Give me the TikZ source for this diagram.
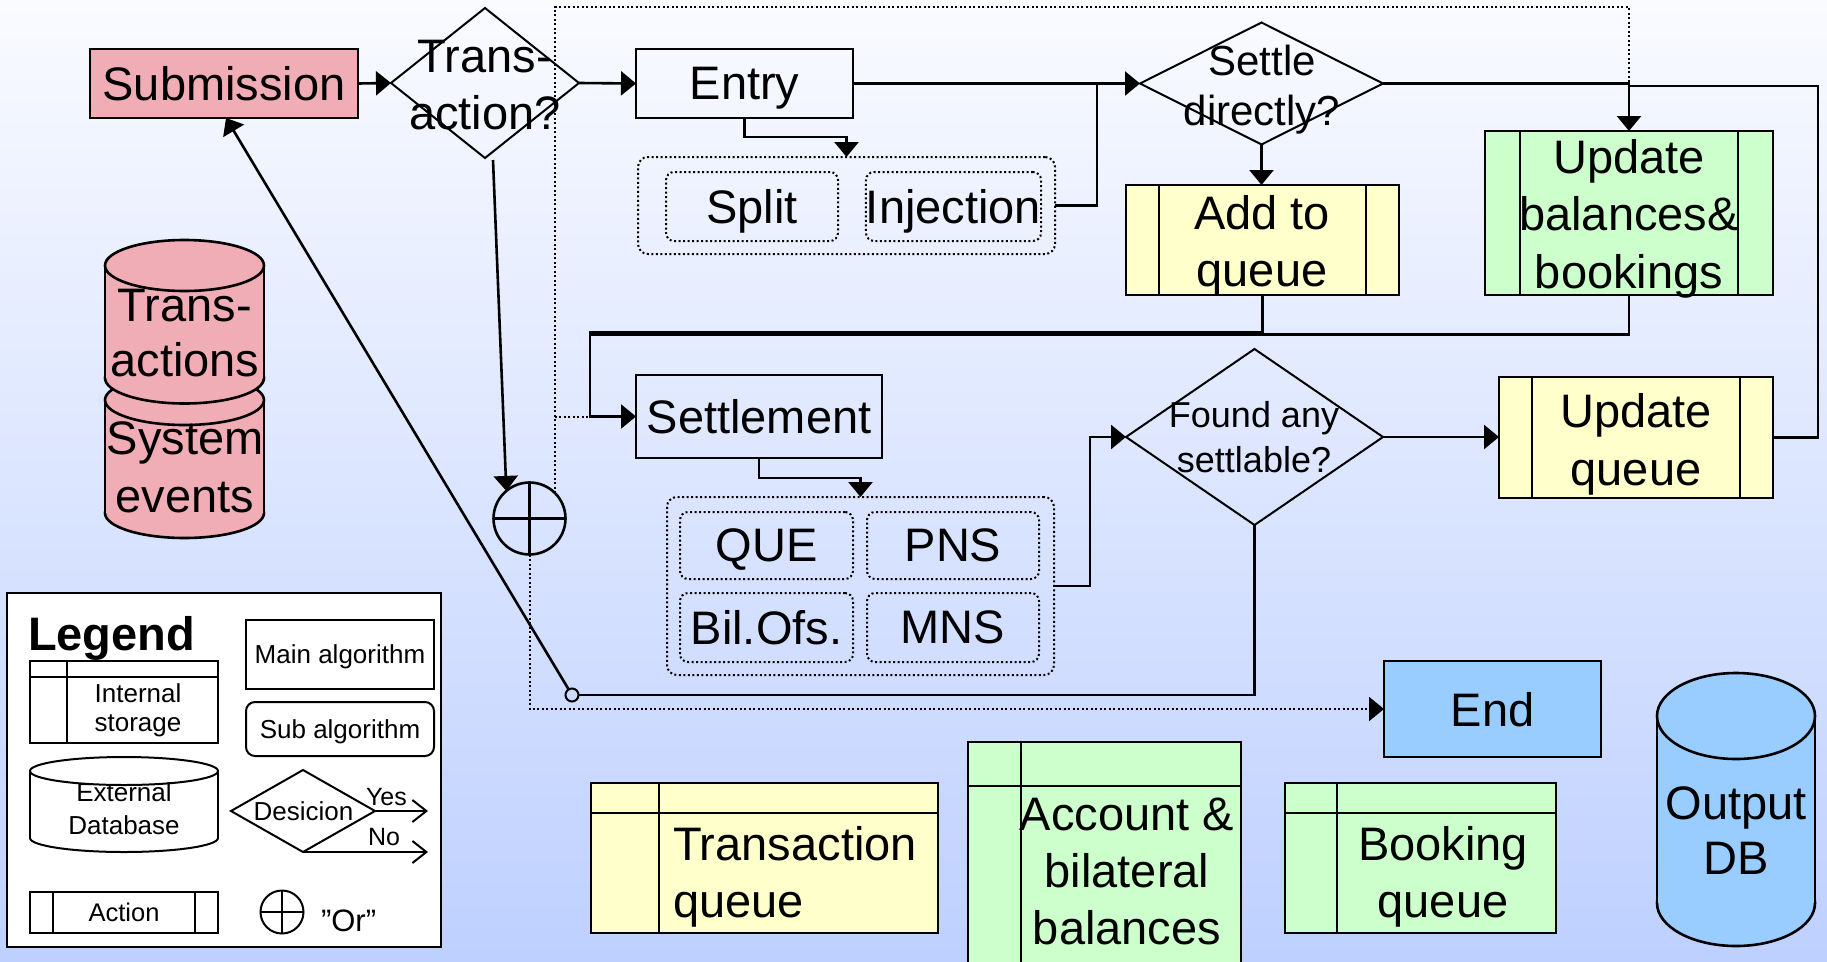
\documentclass[tikz,border=0pt]{standalone}
\usepackage{fontspec}
\setmainfont{Liberation Sans}
\usetikzlibrary{shapes.geometric,arrows.meta,calc}
\definecolor{pinkc}{RGB}{240,173,181}
\definecolor{yelc}{RGB}{255,255,204}
\definecolor{grnc}{RGB}{204,255,204}
\definecolor{bluc}{RGB}{153,204,255}
\definecolor{bgtop}{RGB}{250,251,255}
\definecolor{bgbot}{RGB}{190,208,255}
% vertical cylinder: xc, rx, ytop, ybot, ry, fill, line width
\newcommand\vcyl[7]{%
  \filldraw[fill=#6,line width=#7] (#1,#4) ellipse ({#2} and {#5});
  \fill[#6] (#1-#2,#3) rectangle (#1+#2,#4);
  \draw[line width=#7] (#1-#2,#3) -- (#1-#2,#4) (#1+#2,#3) -- (#1+#2,#4);
  \filldraw[fill=#6,line width=#7] (#1,#3) ellipse ({#2} and {#5});}
\newcommand\actlines[3]{\draw[line width=#3] ([xshift=#2]#1.north west) -- ([xshift=#2]#1.south west) ([xshift=-#2]#1.north east) -- ([xshift=-#2]#1.south east);}
\begin{document}
\begin{tikzpicture}[x=1pt,y=-1pt,
 every node/.style={outer sep=0pt,inner sep=0pt},
 lw/.style={line width=2.6pt},
 box/.style={draw,rectangle,line width=2.6pt,text depth=0pt},
 dia/.style={draw,diamond,line width=2pt},
 arr/.style={-{Triangle[length=15pt,width=24pt]}},
 dotl/.style={line width=2pt,dash pattern=on 2pt off 2.5pt},
 grp/.style={draw,rectangle,line width=2pt,dash pattern=on 2pt off 2.5pt,rounded corners=10pt},
 sgrp/.style={grp,rounded corners=8pt,text depth=0pt},
 bigf/.style={font=\fontsize{47}{57}\selectfont,align=center},
 smallf/.style={font=\fontsize{26}{29}\selectfont,align=center},
 barb/.style={line width=2pt,-{Straight Barb[length=14pt,width=22pt]}}
]
\shade[top color=bgtop,bottom color=bgbot] (0,0) rectangle (1827,961);
\useasboundingbox (0,0) rectangle (1827,961);

% external databases (left)
\vcyl{184.5}{79.5}{400}{513}{25}{pinkc}{2.6pt}
\node[font=\fontsize{47}{58}\selectfont,align=center] (tSe) at (185,467.2) {System\\events};
\vcyl{184.5}{79.5}{265.5}{378}{25.5}{pinkc}{2.6pt}
\node[font=\fontsize{47}{55}\selectfont,align=center] (tTa) at (185,332.6) {Trans-\\actions};

% main flow nodes
\node[box,fill=pinkc,minimum width=268,minimum height=69,bigf] (sub) at (224,83.5) {Submission};
\node[dia,minimum width=188,minimum height=150] (tq) at (485,83) {};
\node[bigf] (tTq) at (485,84.6) {Trans-\\action?};
\node[box,minimum width=217,minimum height=69,bigf] (en) at (744.5,83.5) {Entry};
\node[grp,minimum width=417,minimum height=97] (g1) at (846.5,205.5) {};
\node[sgrp,minimum width=172,minimum height=69,bigf] (spl) at (752,206.5) {Split};
\node[sgrp,minimum width=173,minimum height=69,bigf] (inj) at (953.5,206.5) {Injection};
\node[dia,minimum width=243,minimum height=122] (sd) at (1261.5,83.5) {};
\node[font=\fontsize{42}{50}\selectfont,align=center] (tSd) at (1262,89.4) {Settle\\directly?};
\node[box,fill=yelc,minimum width=273,minimum height=110] (aq) at (1262.5,240) {};
\actlines{aq}{33pt}{2.6pt}
\node[bigf] (tAq) at (1262,245.6) {Add to\\queue};
\node[box,fill=grnc,minimum width=288,minimum height=164] (ub) at (1629,213) {};
\actlines{ub}{35pt}{2.6pt}
\node[bigf,font=\fontsize{47}{57.5}\selectfont] (tUb) at (1629,218.6) {Update\\balances\&\\bookings};
\node[box,minimum width=246,minimum height=83,bigf] (st) at (759,416.5) {Settlement};
\node[grp,minimum width=387,minimum height=178] (g2) at (860.5,586) {};
\node[sgrp,minimum width=173,minimum height=67,bigf] (que) at (766.5,545.5) {QUE};
\node[sgrp,minimum width=172,minimum height=67,bigf] (pns) at (953,545.5) {PNS};
\node[sgrp,minimum width=173,minimum height=69,bigf] (bil) at (766.5,627.5) {Bil.Ofs.};
\node[sgrp,minimum width=172,minimum height=69,bigf] (mns) at (953,627.5) {MNS};
\node[dia,minimum width=257,minimum height=176] (fa) at (1254.5,437) {};
\node[font=\fontsize{36}{45}\selectfont,align=center] (tFa) at (1254,437.6) {Found any\\settlable?};
\node[box,fill=yelc,minimum width=274,minimum height=121] (uq) at (1636,437.5) {};
\actlines{uq}{33pt}{2.6pt}
\node[bigf,font=\fontsize{47}{58}\selectfont] (tUq) at (1636,444.1) {Update\\queue};
\node[circle,draw,lw,minimum size=72] (or) at (529.5,518.5) {};
\draw[lw] (or.north) -- (or.south) (or.west) -- (or.east);
\node[circle,draw,line width=2pt,minimum size=13] (jc) at (572,695) {};
\node[box,fill=bluc,minimum width=217,minimum height=96,bigf] (end) at (1492.5,709) {End};

% internal storages
\node[box,fill=yelc,minimum width=347,minimum height=150] (trq) at (764.5,858) {};
\draw[lw] ([yshift=-30pt]trq.north west) -- ([yshift=-30pt]trq.north east) ([xshift=68pt]trq.north west) -- ([xshift=68pt]trq.south west);
\node[bigf,align=left,anchor=west] (tTrq) at (673,876.6) {Transaction\\queue};
\node[box,fill=grnc,minimum width=273,minimum height=233] (acc) at (1104.5,858.5) {};
\draw[lw] ([yshift=-44pt]acc.north west) -- ([yshift=-44pt]acc.north east) ([xshift=53pt]acc.north west) -- ([xshift=53pt]acc.south west);
\node[bigf,font=\fontsize{47}{56.7}\selectfont] (tAcc) at (1127,871.5) {Account \&\\bilateral\\balances};
\node[box,fill=grnc,minimum width=271,minimum height=150] (bq) at (1420.5,858) {};
\draw[lw] ([yshift=-30pt]bq.north west) -- ([yshift=-30pt]bq.north east) ([xshift=52pt]bq.north west) -- ([xshift=52pt]bq.south west);
\node[bigf] (tBq) at (1443,876.6) {Booking\\queue};
\vcyl{1736}{79}{716}{903}{43}{bluc}{2.6pt}
\node[bigf,font=\fontsize{47}{55}\selectfont] (tOd) at (1736,830.6) {Output\\DB};

% connectors
\coordinate (fb) at ($(st.west)+(-46,0)$);
\coordinate (dtop) at (1629,7);
\coordinate (subtip) at ($(sub.south west)+(136,0)$);
\draw[lw,arr] (sub.east) -- (tq.west);
\draw[lw,arr] (tq.east) -- (en.west);
\draw[lw,arr] (en.south) |- ($(g1.north)+(0,-20)$) -- (g1.north);
\draw[lw,arr] (en.east) -- (sd.west);
\draw[lw] (g1.east) -| ($(sd.west)+(-43,0)$);
\draw[lw,arr] (sd.south) -- (sd.south |- aq.north);
\draw[lw,arr] (sd.east) -| (ub.north);
\draw[lw] (uq.east) -- ++(45,0) |- ($(ub.north)+(0,-45)$);
\draw[lw] (ub.south) -- ++(0,39.5) -| (fb);
\draw[lw,arr] (aq.south) -- ++(0,37) -| (fb) -- (st.west);
\draw[lw,arr] (st.south) |- ($(g2.north)+(0,-19)$) -- (g2.north);
\draw[lw,arr] (g2.east) -- ++(36,0) |- (fa.west);
\draw[lw,arr] (fa.east) -- (fa.east -| uq.west);
\draw[lw] (fa.south) |- (jc.east);
\draw[lw,arr] (jc.121) -- (subtip);
\draw[lw,arr] ($(tq.south)+(8,2)$) -- (or.130);
\draw[dotl] (or.north east) |- (dtop) -- (dtop |- sd.east);
\draw[dotl] (or.north east |- fb) -- (fb);
\draw[dotl,arr] (or.south) |- (end.west);

% legend
\node[draw,fill=white,line width=2.6pt,minimum width=434,minimum height=354] (leg) at (224,770) {};
\node[font=\fontsize{47}{50}\selectfont\bfseries,anchor=base west] (tLeg) at (28,650) {Legend};
\node[box,line width=2pt,minimum width=188,minimum height=82] (lInt) at (124,702) {};
\draw[line width=2pt] ([yshift=-16pt]lInt.north west) -- ([yshift=-16pt]lInt.north east) ([xshift=37pt]lInt.north west) -- ([xshift=37pt]lInt.south west);
\node[smallf] (tInt) at (138,710.6) {Internal\\storage};
\node[box,line width=2pt,minimum width=188,minimum height=69,smallf] (lMain) at (340,654.5) {Main algorithm};
\node[box,line width=2pt,rounded corners=9pt,minimum width=188,minimum height=54,smallf] (lSub) at (340,729) {Sub algorithm};
\vcyl{124}{94}{771}{838}{14}{white}{2pt}
\node[font=\fontsize{26}{33}\selectfont,align=center] (tExt) at (124,809) {External\\Database};
\node[dia,minimum width=144,minimum height=82] (lDia) at (303,811) {};
\node[font=\fontsize{26}{29}\selectfont,anchor=base] (tDes) at (303.5,820) {Desicion};
\coordinate (lYes) at (428,811);
\coordinate (lNo) at (428,852);
\draw[barb] (lDia.east) -- (lYes);
\draw[barb] (lDia.south) -- (lNo);
\node[font=\fontsize{25}{28}\selectfont,anchor=base west] (tYes) at (366,805) {Yes};
\node[font=\fontsize{25}{28}\selectfont,anchor=base west] (tNo) at (368,845) {No};
\node[box,line width=2pt,minimum width=188,minimum height=41,font=\fontsize{25.5}{28}\selectfont] (lAct) at (124,912.5) {Action};
\actlines{lAct}{23pt}{2pt}
\node[circle,draw,line width=2pt,minimum size=43] (lOr) at (282,912) {};
\draw[line width=2pt] (lOr.north) -- (lOr.south) (lOr.west) -- (lOr.east);
\node[font=\fontsize{31}{34}\selectfont,anchor=base west] (tOr) at (321,931) {”Or”};
\end{tikzpicture}
\end{document}
